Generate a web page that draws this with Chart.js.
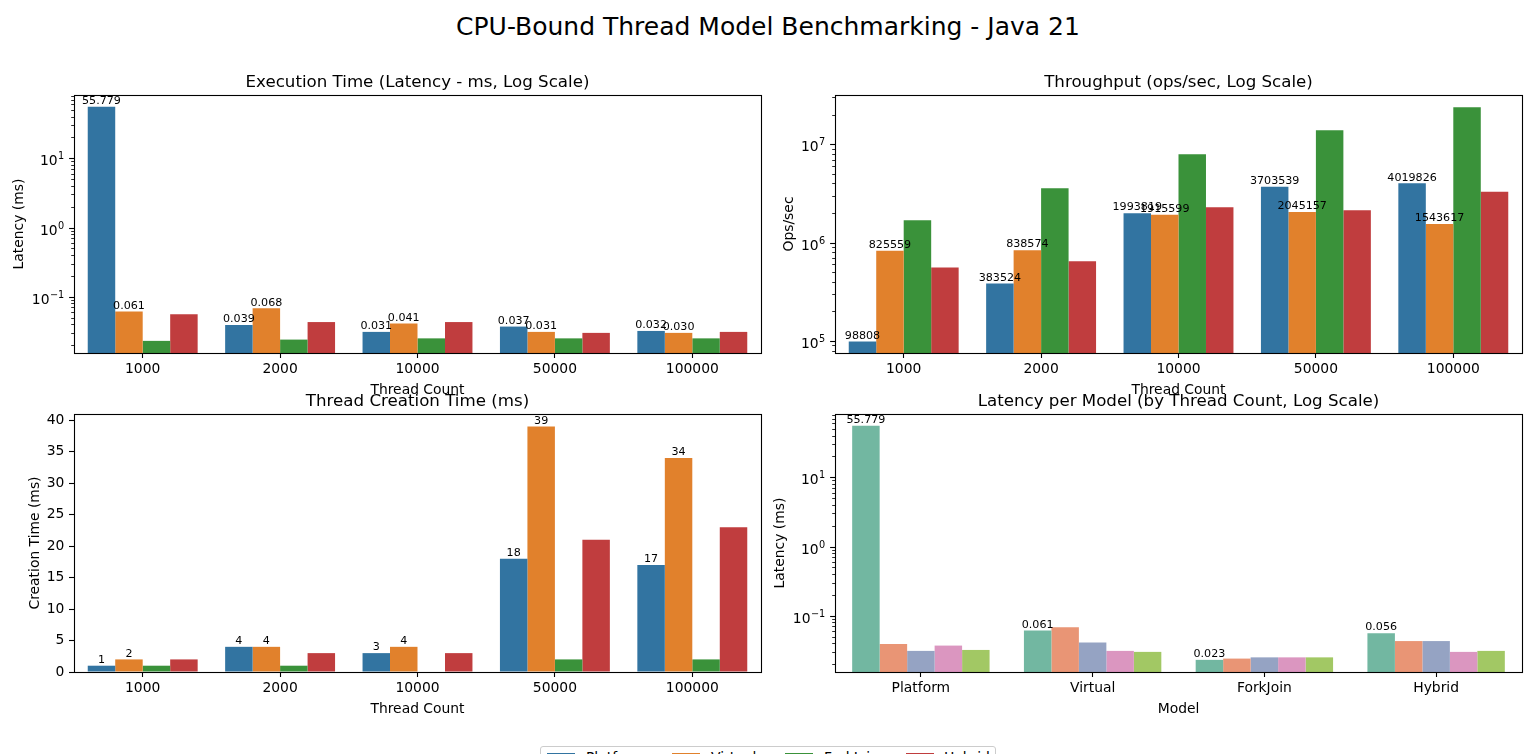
<!DOCTYPE html>
<html>
<head>
<meta charset="utf-8">
<script src="https://cdn.jsdelivr.net/npm/chart.js@4.4.1/dist/chart.umd.min.js"></script>
<style>
html,body{margin:0;padding:0;background:#fff;width:1536px;height:754px;overflow:hidden;font-family:"DejaVu Sans",sans-serif;}
canvas{position:absolute;left:0;top:0;}
#sup{position:absolute;left:0;top:14px;width:1536px;text-align:center;font-size:25px;line-height:1;color:#000;white-space:nowrap;}
#legend{position:absolute;left:540px;top:746px;width:456px;height:34px;border:1px solid #ccc;border-radius:3px;box-sizing:border-box;background:#fff;}
.lp{position:absolute;top:6px;width:28px;height:9px;}
.lt{position:absolute;top:2px;font-size:13.89px;line-height:17px;color:#000;white-space:nowrap;}
</style>
</head>
<body>
<div id="sup">CPU-Bound Thread Model Benchmarking - Java 21</div>
<canvas id="c1" width="1536" height="754"></canvas>
<canvas id="c2" width="1536" height="754"></canvas>
<canvas id="c3" width="1536" height="754"></canvas>
<canvas id="c4" width="1536" height="754"></canvas>
<div id="legend"></div>
<script>
// ---------------- DATA ----------------
const threadCounts = ['1000', '2000', '10000', '50000', '100000'];
const models = ['Platform', 'Virtual', 'ForkJoin', 'Hybrid'];

// Latency (ms) per model, indexed by thread count
const latencyPlatform = [55.779, 0.039, 0.031, 0.037, 0.032];
const latencyVirtual  = [0.061, 0.068, 0.041, 0.031, 0.030];
const latencyForkJoin = [0.023, 0.024, 0.025, 0.025, 0.025];
const latencyHybrid   = [0.056, 0.043, 0.043, 0.030, 0.031];

// Throughput (ops/sec) per model, indexed by thread count
const throughputPlatform = [98808, 383524, 1993819, 3703539, 4019826];
const throughputVirtual  = [825559, 838574, 1915599, 2045157, 1543617];
const throughputForkJoin = [1690000, 3570000, 7900000, 13900000, 23800000];
const throughputHybrid   = [560000, 645000, 2290000, 2130000, 3300000];

// Thread creation time (ms) per model, indexed by thread count
const creationPlatform = [1, 4, 3, 18, 17];
const creationVirtual  = [2, 4, 4, 39, 34];
const creationForkJoin = [1, 1, 0, 2, 2];
const creationHybrid   = [2, 3, 3, 21, 23];

// Tick labels
const latencyMajorTicks = [0.1, 1, 10];
const throughputMajorTicks = [1e5, 1e6, 1e7];
const creationTicks = [0, 5, 10, 15, 20, 25, 30, 35, 40];

// ---------------- STYLE ----------------
const modelColors = ['#3274a1', '#e1812c', '#3a923a', '#c03d3e'];
const threadColors = ['#72b7a1', '#e99575', '#95a3c3', '#db96c0', '#a2c864'];
const FONT = 'DejaVu Sans';
const TICK_SIZE = 13.89;
const TITLE_SIZE = 16.67;
const BARLABEL_SIZE = 11.11;

function isMajor(v) { const l = Math.log10(v); return Math.abs(l - Math.round(l)) < 1e-9; }
function logTicks(min, max) {
  const out = [];
  for (let d = Math.floor(Math.log10(min)); d <= Math.ceil(Math.log10(max)); d++) {
    for (let k = 1; k <= 9; k++) {
      const v = k * Math.pow(10, d);
      if (v >= min && v <= max) out.push(v);
    }
  }
  return out;
}

function makeChart(id, cfg) {
  const area = cfg.area;
  const isLog = cfg.yType === 'logarithmic';
  const datasets = cfg.series.map((s) => ({
    label: s.label,
    data: s.data,
    backgroundColor: s.color,
    borderWidth: 0,
    categoryPercentage: 0.8,
    barPercentage: 1.0
  }));
  const tickVals = isLog ? logTicks(cfg.yMin, cfg.yMax) : cfg.yTicks;

  const plugin = {
    id: 'decor' + id,
    afterDraw(chart) {
      const ctx = chart.ctx;
      const ca = chart.chartArea;
      ctx.save();
      // manual log tick marks and math-style labels
      if (isLog) {
        const ys = chart.scales.y;
        ys.ticks.forEach(t => {
          const yp = ys.getPixelForValue(t.value);
          const y = Math.round(yp) + 0.5;
          const maj = isMajor(t.value);
          ctx.beginPath();
          ctx.strokeStyle = '#000';
          ctx.lineWidth = maj ? 1.1 : 0.83;
          ctx.moveTo(ca.left, y);
          ctx.lineTo(ca.left - (maj ? 4.9 : 2.8), y);
          ctx.stroke();
          if (maj && cfg.yMajors.some(m => Math.abs(Math.log10(m) - Math.log10(t.value)) < 1e-9)) {
            const e = Math.round(Math.log10(t.value));
            const expStr = String(e).replace('-', '\u2212');
            const right = ca.left - 9.7;
            ctx.fillStyle = '#000';
            ctx.textAlign = 'right';
            ctx.textBaseline = 'alphabetic';
            ctx.font = (TICK_SIZE * 0.7).toFixed(2) + 'px "' + FONT + '"';
            const ew = ctx.measureText(expStr).width;
            ctx.fillText(expStr, right, yp + 7 - 6);
            ctx.font = TICK_SIZE + 'px "' + FONT + '"';
            ctx.fillText('10', right - ew - 0.5, yp + 7);
          }
        });
      }
      // frame
      ctx.strokeStyle = '#000';
      ctx.lineWidth = 1.1;
      ctx.strokeRect(ca.left + 0.5, ca.top + 0.5, ca.right - ca.left, ca.bottom - ca.top);
      // bar labels
      ctx.fillStyle = '#000';
      ctx.font = BARLABEL_SIZE + 'px "' + FONT + '"';
      ctx.textAlign = 'center';
      ctx.textBaseline = 'bottom';
      cfg.labelSets.forEach(di => {
        const meta = chart.getDatasetMeta(di);
        meta.data.forEach((el, j) => {
          const v = chart.data.datasets[di].data[j];
          ctx.fillText(cfg.fmt(v), el.x, el.y);
        });
      });
      // subplot title
      ctx.font = TITLE_SIZE + 'px "' + FONT + '"';
      ctx.textBaseline = 'alphabetic';
      ctx.fillText(cfg.title, (ca.left + ca.right) / 2, ca.top - 8.3);
      ctx.restore();
    }
  };

  return new Chart(document.getElementById(id), {
    type: 'bar',
    data: { labels: cfg.labels, datasets },
    options: {
      responsive: false,
      animation: false,
      devicePixelRatio: 1,
      layout: {
        padding: {
          left: area.left - cfg.yWidth,
          top: area.top,
          right: 1536 - area.right,
          bottom: 754 - area.bottom - cfg.xHeight
        }
      },
      plugins: { legend: { display: false }, tooltip: { enabled: false }, title: { display: false } },
      scales: {
        x: {
          type: 'category',
          offset: true,
          border: { display: false },
          grid: { display: true, drawOnChartArea: false, drawTicks: true, tickLength: 5, offset: false, color: '#000', tickColor: '#000', tickWidth: 1.1 },
          ticks: { color: '#000', font: { family: FONT, size: TICK_SIZE }, padding: 3, maxRotation: 0, autoSkip: false },
          title: { display: true, text: cfg.xTitle, color: '#000', font: { family: FONT, size: TICK_SIZE }, padding: { top: 0, bottom: 4 } },
          afterFit(s) { s.height = cfg.xHeight; }
        },
        y: {
          type: cfg.yType,
          min: cfg.yMin,
          max: cfg.yMax,
          border: { display: false },
          grid: isLog
            ? { display: false }
            : { display: true, drawOnChartArea: false, drawTicks: true, tickLength: 5, color: '#000', tickColor: '#000', tickWidth: 1.1 },
          ticks: {
            color: '#000',
            font: { family: FONT, size: TICK_SIZE },
            padding: isLog ? 9.7 : 4.7,
            autoSkip: false,
            callback: function (value) {
              if (isLog) return '';
              return String(value);
            }
          },
          afterBuildTicks(s) { s.ticks = tickVals.map(v => ({ value: v })); },
          title: { display: true, text: cfg.yTitle, color: '#000', font: { family: FONT, size: TICK_SIZE }, padding: { top: cfg.yTitlePad, bottom: 0 } },
          afterFit(s) { s.width = cfg.yWidth; }
        }
      }
    },
    plugins: [plugin]
  });
}

const latencyByModel = [latencyPlatform, latencyVirtual, latencyForkJoin, latencyHybrid];
const throughputByModel = [throughputPlatform, throughputVirtual, throughputForkJoin, throughputHybrid];
const creationByModel = [creationPlatform, creationVirtual, creationForkJoin, creationHybrid];

// Top-left: latency by thread count
makeChart('c1', {
  labels: threadCounts,
  series: models.map((m, i) => ({ label: m, data: latencyByModel[i], color: modelColors[i] })),
  area: { left: 74, right: 761, top: 95, bottom: 353 },
  yWidth: 74, xHeight: 50,
  yType: 'logarithmic', yMin: 0.01536, yMax: 82.2, yMajors: latencyMajorTicks,
  yTitle: 'Latency (ms)', yTitlePad: 10.7,
  xTitle: 'Thread Count',
  title: 'Execution Time (Latency - ms, Log Scale)',
  labelSets: [0, 1],
  fmt: v => v.toFixed(3)
});

// Top-right: throughput by thread count
makeChart('c2', {
  labels: threadCounts,
  series: models.map((m, i) => ({ label: m, data: throughputByModel[i], color: modelColors[i] })),
  area: { left: 835, right: 1522, top: 95, bottom: 353 },
  yWidth: 65, xHeight: 50,
  yType: 'logarithmic', yMin: 75500, yMax: 3.17e7, yMajors: throughputMajorTicks,
  yTitle: 'Ops/sec', yTitlePad: 10.7,
  xTitle: 'Thread Count',
  title: 'Throughput (ops/sec, Log Scale)',
  labelSets: [0, 1],
  fmt: v => String(Math.round(v))
});

// Bottom-left: creation time
makeChart('c3', {
  labels: threadCounts,
  series: models.map((m, i) => ({ label: m, data: creationByModel[i], color: modelColors[i] })),
  area: { left: 74, right: 761, top: 414, bottom: 672 },
  yWidth: 74, xHeight: 50,
  yType: 'linear', yMin: 0, yMax: 41, yTicks: creationTicks,
  yTitle: 'Creation Time (ms)', yTitlePad: 26.7,
  xTitle: 'Thread Count',
  title: 'Thread Creation Time (ms)',
  labelSets: [0, 1],
  fmt: v => String(Math.round(v))
});

// Bottom-right: latency per model, hue = thread count
makeChart('c4', {
  labels: models,
  series: threadCounts.map((t, j) => ({ label: t, data: latencyByModel.map(arr => arr[j]), color: threadColors[j] })),
  area: { left: 835, right: 1522, top: 414, bottom: 672 },
  yWidth: 65, xHeight: 50,
  yType: 'logarithmic', yMin: 0.01536, yMax: 82.2, yMajors: latencyMajorTicks,
  yTitle: 'Latency (ms)', yTitlePad: 1.7,
  xTitle: 'Model',
  title: 'Latency per Model (by Thread Count, Log Scale)',
  labelSets: [0],
  fmt: v => v.toFixed(3)
});

// Figure legend (cut off at the bottom, like the reference)
const legendPatchX = [6, 131, 244, 365];
const legendTextX = [45, 170, 283, 403];
const leg = document.getElementById('legend');
models.forEach((m, i) => {
  const p = document.createElement('div');
  p.className = 'lp';
  p.style.left = legendPatchX[i] + 'px';
  p.style.background = modelColors[i];
  leg.appendChild(p);
  const t = document.createElement('div');
  t.className = 'lt';
  t.style.left = legendTextX[i] + 'px';
  t.textContent = m;
  leg.appendChild(t);
});
</script>
</body>
</html>
